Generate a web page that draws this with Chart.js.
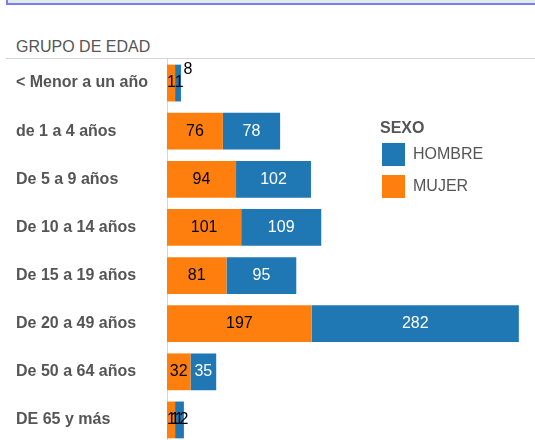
<!DOCTYPE html>
<html>
<head>
<meta charset="utf-8">
<script src="https://cdn.jsdelivr.net/npm/chart.js@4"></script>
<style>
    html, body { margin: 0; padding: 0; background: #fff; overflow: hidden; width: 535px; height: 440px; }
    body { position: relative; font-family: "Liberation Sans", Arial, sans-serif; }
    #topBox { position: absolute; left: 6px; top: -10px; width: 540px; height: 13px; background: #deece7; border-left: 2px solid #7b7bf5; border-bottom: 2px solid #7b7bf5; }
    #header { position: absolute; left: 16px; top: 38px; font-size: 16px; color: #555; }
    #headerLine { position: absolute; left: 6px; top: 58px; width: 529px; height: 1px; background: #d6d6d6; }
    #wrap { position: absolute; left: 0; top: 59px; width: 535px; height: 385px; }
    #legend { position: absolute; left: 380px; top: 119px; color: #555; }
    #legend .title { font-weight: bold; font-size: 16px; margin-bottom: 6px; }
    #legend .item { position: relative; height: 32px; font-size: 16px; }
    #legend .sw { position: absolute; left: 2px; top: 0; width: 23px; height: 23px; }
    #legend .txt { position: absolute; left: 33px; top: 2px; }
</style>
</head>
<body>
<div id="topBox"></div>
<div id="header">GRUPO DE EDAD</div>
<div id="headerLine"></div>
<div id="wrap"><canvas id="myChart" width="535" height="385"></canvas></div>
<div id="legend">
    <div class="title">SEXO</div>
    <div class="item"><div class="sw" style="background:#1f77b4"></div><div class="txt">HOMBRE</div></div>
    <div class="item"><div class="sw" style="background:#ff7f0e"></div><div class="txt">MUJER</div></div>
</div>
<script>
var ageGroups = ['< Menor a un año', 'de 1 a 4 años', 'De 5 a 9 años', 'De 10 a 14 años', 'De 15 a 19 años', 'De 20 a 49 años', 'De 50 a 64 años', 'DE 65 y más'];
var mujerValues = [11, 76, 94, 101, 81, 197, 32, 11];
var hombreValues = [8, 78, 102, 109, 95, 282, 35, 12];

var colorMujer = '#ff7f0e';
var colorHombre = '#1f77b4';

// labels centred on each segment, kept right of the axis;
// a label hidden inside the previous one is moved beside it, at the bar top
var segmentLabels = {
    id: 'segmentLabels',
    afterDatasetsDraw: function (chart) {
        var ctx = chart.ctx;
        var area = chart.chartArea;
        ctx.save();
        ctx.font = '16px "Liberation Sans", Arial, sans-serif';
        ctx.textBaseline = 'middle';
        ctx.textAlign = 'left';
        var lastRight = [];
        chart.data.datasets.forEach(function (ds, di) {
            var meta = chart.getDatasetMeta(di);
            meta.data.forEach(function (bar, i) {
                var text = String(ds.data[i]);
                var w = ctx.measureText(text).width;
                var x0 = Math.min(bar.x, bar.base), x1 = Math.max(bar.x, bar.base);
                var segW = x1 - x0;
                var cx = (x0 + x1) / 2;
                var left = Math.max(cx - w / 2, area.left);
                var y = bar.y;
                var fits = w + 4 <= segW;
                if (lastRight[i] !== undefined && left + w <= lastRight[i] + 2) {
                    left = lastRight[i];
                    y = bar.y - bar.height / 2 + 5;
                }
                ctx.fillStyle = (ds.label === 'HOMBRE' && fits) ? '#ffffff' : '#000000';
                ctx.fillText(text, left, y);
                lastRight[i] = left + w;
            });
        });
        ctx.restore();
    }
};

var canvas = document.getElementById('myChart');
var chart = new Chart(canvas, {
    type: 'bar',
    data: {
        labels: ageGroups,
        datasets: [
            { label: 'MUJER', data: mujerValues, backgroundColor: colorMujer, categoryPercentage: 0.765, barPercentage: 1 },
            { label: 'HOMBRE', data: hombreValues, backgroundColor: colorHombre, categoryPercentage: 0.765, barPercentage: 1 }
        ]
    },
    options: {
        indexAxis: 'y',
        responsive: false,
        animation: false,
        layout: { padding: { left: 16, right: 0, top: 0, bottom: 0 } },
        plugins: { legend: { display: false }, tooltip: { enabled: false } },
        scales: {
            x: { stacked: true, display: false, min: 0, max: 501 },
            y: {
                stacked: true,
                grid: { display: false },
                border: { display: true, color: '#d6d6d6', width: 1 },
                ticks: {
                    crossAlign: 'far',
                    color: '#555',
                    font: { family: '"Liberation Sans", Arial, sans-serif', size: 16, weight: 'bold' }
                },
                afterFit: function (axis) {
                    axis.width = 151;
                    axis.paddingTop = 0;
                    axis.paddingBottom = 0;
                }
            }
        }
    },
    plugins: [segmentLabels]
});
</script>
</body>
</html>
